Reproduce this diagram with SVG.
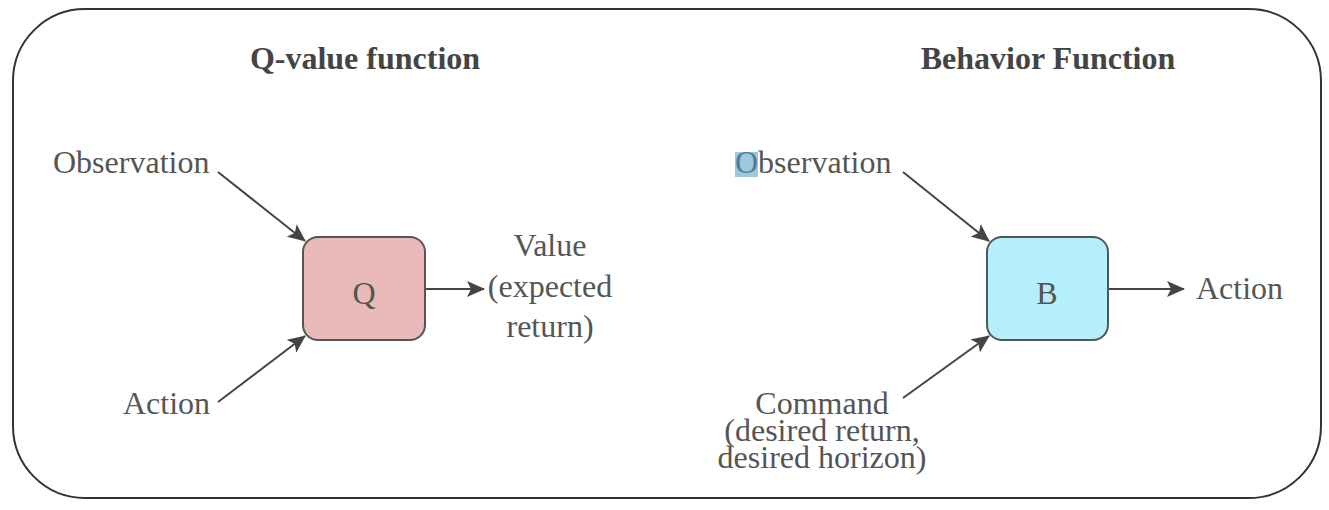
<svg xmlns="http://www.w3.org/2000/svg" width="1329" height="510" viewBox="0 0 1329 510">
<defs>
<style>
.t{font-family:"Liberation Serif","Times New Roman",serif;font-size:32px;fill:#555;}
.title{font-family:"Liberation Serif","Times New Roman",serif;font-size:32px;font-weight:bold;fill:#444;}
.c{stroke:#444;stroke-width:2;fill:none;}
.box{stroke:#555;stroke-width:2;}
</style>
<marker id="ah" viewBox="0 0 18 16" refX="17" refY="8" markerWidth="18" markerHeight="16" markerUnits="userSpaceOnUse" orient="auto">
<path d="M0,0 L18,8 L0,16 L4,8 Z" fill="#444"/>
</marker>
</defs>
<rect x="13" y="9" width="1308" height="489" rx="72" ry="72" fill="#fff" stroke="#333" stroke-width="2"/>
<g id="titles">
<text class="title" x="365" y="69" text-anchor="middle">Q-value function</text>
<text class="title" x="1048" y="69" text-anchor="middle">Behavior Function</text>
</g>
<g id="connectors">
<line class="c" x1="218" y1="172" x2="305" y2="241" marker-end="url(#ah)"/>
<line class="c" x1="218" y1="402" x2="305" y2="336" marker-end="url(#ah)"/>
<line class="c" x1="425" y1="289" x2="484" y2="289" marker-end="url(#ah)"/>
<line class="c" x1="903" y1="172" x2="989" y2="241" marker-end="url(#ah)"/>
<line class="c" x1="903" y1="398" x2="989" y2="336" marker-end="url(#ah)"/>
<line class="c" x1="1108" y1="289" x2="1184" y2="289" marker-end="url(#ah)"/>
</g>
<g id="node-q">
<rect class="box" x="303" y="237" width="122" height="103" rx="15" fill="#eababb"/>
<text class="t" x="364" y="304" text-anchor="middle">Q</text>
</g>
<g id="node-b">
<rect class="box" x="987" y="237" width="121" height="103" rx="15" fill="#b5effc"/>
<text class="t" x="1047" y="304" text-anchor="middle">B</text>
</g>
<g id="label-obs-q"><text class="t" x="53" y="173">Observation</text></g>
<g id="label-action-q"><text class="t" x="123" y="414">Action</text></g>
<g id="label-value">
<text class="t" x="550" y="256" text-anchor="middle">Value</text>
<text class="t" x="550" y="297" text-anchor="middle">(expected</text>
<text class="t" x="550" y="337" text-anchor="middle">return)</text>
</g>
<g id="label-obs-b">
<text class="t" x="735" y="173">Observation</text>
<rect x="735" y="152" width="23" height="25" fill="#4f9bc9" fill-opacity="0.55"/>
</g>
<g id="label-command">
<text class="t" x="822" y="414" text-anchor="middle">Command</text>
<text class="t" x="822" y="441" text-anchor="middle">(desired return,</text>
<text class="t" x="822" y="468" text-anchor="middle">desired horizon)</text>
</g>
<g id="label-action-b"><text class="t" x="1196" y="299">Action</text></g>
</svg>
